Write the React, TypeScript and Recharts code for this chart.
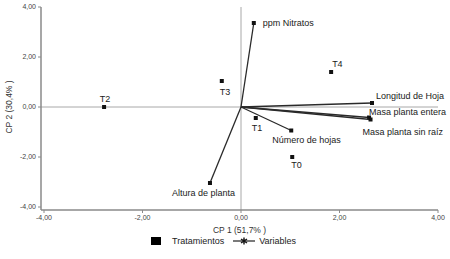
import { Label, ReferenceLine, Scatter, ScatterChart, XAxis, YAxis } from "recharts"

// treatments (scores)
const treatmentNames = ["T0", "T1", "T2", "T3", "T4"]
const treatmentCp1 = [1.04, 0.3, -2.78, -0.39, 1.83]
const treatmentCp2 = [-2.0, -0.44, 0.0, 1.04, 1.4]

// variables (loadings), drawn as vectors from the origin
const variableNames = [
  "ppm Nitratos",
  "Longitud de Hoja",
  "Masa planta entera",
  "Masa planta sin raíz",
  "Número de hojas",
  "Altura de planta",
]
const variableCp1 = [0.26, 2.66, 2.6, 2.63, 1.02, -0.63]
const variableCp2 = [3.36, 0.16, -0.42, -0.5, -0.94, -3.04]

const axisTicks = [-4, -2, 0, 2, 4]

// label placement relative to the marker: [dx, dy, anchor]
const labelPlacement: Record<string, [number, number, "start" | "middle" | "end"]> = {
  T0: [-1, 8, "start"],
  T1: [-4, 10, "start"],
  T2: [1, -8, "middle"],
  T3: [-2, 11, "start"],
  T4: [1, -8, "start"],
  "ppm Nitratos": [9, 0, "start"],
  "Longitud de Hoja": [4, -7, "start"],
  "Masa planta entera": [0, -6, "start"],
  "Masa planta sin raíz": [-8, 12, "start"],
  "Número de hojas": [-19, 9, "start"],
  "Altura de planta": [-38, 10, "start"],
}

const FONT = "'Liberation Sans', Arial, sans-serif"
const fmt = (v: number) => v.toFixed(2).replace(".", ",")

const treatments = treatmentNames.map((name, i) => ({
  name,
  x: treatmentCp1[i],
  y: treatmentCp2[i],
}))

function PointMark(props: any) {
  const { cx, cy, payload } = props
  if (payload?.origin) return <g />
  const [dx, dy, anchor] = labelPlacement[payload.name] ?? [4, 0, "start"]
  return (
    <g>
      <rect x={cx - 2} y={cy - 2} width={4} height={4} fill="#111" />
      <text
        x={cx + dx}
        y={cy + dy}
        textAnchor={anchor}
        dominantBaseline="central"
        fontFamily={FONT}
        fontSize={9}
        fill="#1a1a1a"
      >
        {payload.name}
      </text>
    </g>
  )
}

export default function App() {
  return (
    <div style={{ position: "absolute", left: 0, top: 0, width: 450, height: 259, background: "#fff" }}>
      <ScatterChart width={450} height={259} margin={{ top: 7, right: 12, left: 11, bottom: 24 }}>
        <XAxis
          type="number"
          dataKey="x"
          domain={[-4, 4]}
          ticks={axisTicks}
          tickFormatter={fmt}
          padding={{ left: 3, right: 0 }}
          height={25}
          tickSize={3}
          axisLine={{ stroke: "#8a8a8a", strokeWidth: 1.5 }}
          tickLine={{ stroke: "#8a8a8a" }}
          tick={{ fill: "#444", fontSize: 7, fontFamily: FONT }}
        >
          <Label
            value="CP 1 (51,7% )"
            position="insideBottom"
            offset={2}
            style={{ fill: "#333", fontSize: 8.5, fontFamily: FONT }}
          />
        </XAxis>
        <YAxis
          type="number"
          dataKey="y"
          domain={[-4, 4]}
          ticks={axisTicks}
          tickFormatter={fmt}
          padding={{ top: 0, bottom: 3 }}
          width={30}
          tickSize={3}
          axisLine={{ stroke: "#8a8a8a", strokeWidth: 1.5 }}
          tickLine={{ stroke: "#8a8a8a" }}
          tick={{ fill: "#444", fontSize: 7, fontFamily: FONT }}
        >
          <Label
            content={() => (
              <text
                x={9}
                y={107}
                transform="rotate(-90 9 107)"
                textAnchor="middle"
                dominantBaseline="central"
                fontFamily={FONT}
                fontSize={8.5}
                fill="#333"
              >
                CP 2 (30,4% )
              </text>
            )}
          />
        </YAxis>
        <ReferenceLine x={0} stroke="#a8a8a8" strokeWidth={1} />
        <ReferenceLine y={0} stroke="#a8a8a8" strokeWidth={1} />
        {variableNames.map((name, i) => (
          <Scatter
            key={name}
            data={[
              { x: 0, y: 0, origin: true, name },
              { x: variableCp1[i], y: variableCp2[i], name },
            ]}
            line={{ stroke: "#2a2a2a", strokeWidth: 1.3 }}
            shape={PointMark}
            isAnimationActive={false}
          />
        ))}
        <Scatter data={treatments} shape={PointMark} isAnimationActive={false} />
      </ScatterChart>
      <div
        style={{
          position: "absolute",
          left: 151,
          top: 236,
          display: "flex",
          alignItems: "center",
          fontFamily: FONT,
          fontSize: 9,
          color: "#222",
        }}
      >
        <span style={{ display: "inline-block", width: 10, height: 8, background: "#000", marginRight: 11 }} />
        <span style={{ marginRight: 9 }}>Tratamientos</span>
        <svg width={22} height={10} style={{ marginRight: 4 }}>
          <line x1={0} y1={5} x2={22} y2={5} stroke="#222" strokeWidth={1.2} />
          <path d="M11 1.5 L11 8.5 M8 3 L14 7 M8 7 L14 3" stroke="#111" strokeWidth={1.4} />
        </svg>
        <span>Variables</span>
      </div>
    </div>
  )
}
